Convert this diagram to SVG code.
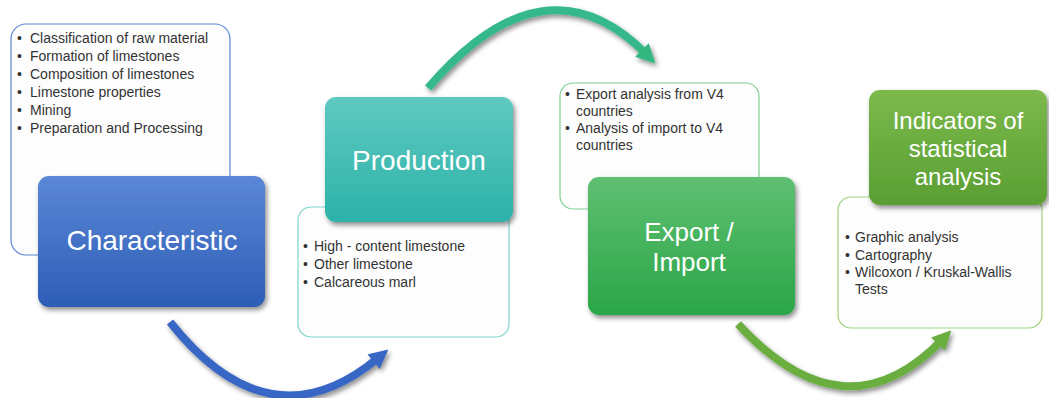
<svg xmlns="http://www.w3.org/2000/svg" width="1049" height="398" viewBox="0 0 1049 398">
<style>
.list{fill:#fdfdfd;stroke-width:1.2}
.li{font-family:"Liberation Sans","Open Sans",sans-serif;font-size:14px;fill:#333}
.head{font-family:"Liberation Sans","Open Sans",sans-serif;font-size:28px;fill:#ffffff;text-anchor:middle}
.h26{font-size:26px}
.h24{font-size:24px}
.arc{fill:none;stroke-width:8;stroke-linecap:butt}
</style>
<defs>
<filter id="sh" x="-10%" y="-10%" width="125%" height="130%">
<feDropShadow dx="2" dy="3" stdDeviation="2.5" flood-color="#000" flood-opacity="0.45"/>
</filter>
<linearGradient id="gBlue" x1="0" y1="0" x2="0" y2="1"><stop offset="0" stop-color="#5b87d6"/><stop offset="1" stop-color="#2d5db6"/></linearGradient>
<linearGradient id="gTeal" x1="0" y1="0" x2="0" y2="1"><stop offset="0" stop-color="#5ec9c1"/><stop offset="1" stop-color="#2db2a9"/></linearGradient>
<linearGradient id="gGreen" x1="0" y1="0" x2="0" y2="1"><stop offset="0" stop-color="#5fbf72"/><stop offset="1" stop-color="#2aa647"/></linearGradient>
<linearGradient id="gLime" x1="0" y1="0" x2="0" y2="1"><stop offset="0" stop-color="#7cb94c"/><stop offset="1" stop-color="#5a9f33"/></linearGradient>
<marker id="mBlue" viewBox="0 0 10 10" refX="3" refY="5" markerWidth="2.4" markerHeight="2.4" orient="auto"><path d="M0,0 L10,5 L0,10 z" fill="#3966c4"/></marker>
<marker id="mTeal" viewBox="0 0 10 10" refX="3" refY="5" markerWidth="2.4" markerHeight="2.4" orient="auto"><path d="M0,0 L10,5 L0,10 z" fill="#33b77f"/></marker>
<marker id="mLime" viewBox="0 0 10 10" refX="3" refY="5" markerWidth="2.4" markerHeight="2.4" orient="auto"><path d="M0,0 L10,5 L0,10 z" fill="#6aae41"/></marker>
</defs>
<rect width="1049" height="398" fill="#ffffff"/>

<g id="connectors">
<path class="arc" d="M170,322 Q270,448 378,358" stroke="#3966c4" marker-end="url(#mBlue)" filter="url(#sh)"/>
<path class="arc" d="M428,88 Q545,-48 646,54" stroke="#36b98a" marker-end="url(#mTeal)" filter="url(#sh)"/>
<path class="arc" d="M738,324 Q845,440 942,340" stroke="#6aae41" marker-end="url(#mLime)" filter="url(#sh)"/>
</g>

<g id="characteristic">
<rect class="list" x="11" y="24" width="219" height="231" rx="15" stroke="#5b86d2"/>
<g class="li">
<text x="17" y="43">•</text><text x="30" y="43">Classification of raw material</text>
<text x="17" y="61">•</text><text x="30" y="61">Formation of limestones</text>
<text x="17" y="79">•</text><text x="30" y="79">Composition of limestones</text>
<text x="17" y="97">•</text><text x="30" y="97">Limestone properties</text>
<text x="17" y="115">•</text><text x="30" y="115">Mining</text>
<text x="17" y="133">•</text><text x="30" y="133">Preparation and Processing</text>
</g>
<rect x="38" y="176" width="227" height="131" rx="11" fill="url(#gBlue)" filter="url(#sh)"/>
<text class="head" x="152" y="250">Characteristic</text>
</g>

<g id="production">
<rect class="list" x="298" y="207" width="211" height="130" rx="13" stroke="#7fd4cf"/>
<g class="li">
<text x="303" y="251">•</text><text x="314" y="251">High - content limestone</text>
<text x="303" y="269">•</text><text x="314" y="269">Other limestone</text>
<text x="303" y="287">•</text><text x="314" y="287">Calcareous marl</text>
</g>
<rect x="325" y="97" width="188" height="125" rx="11" fill="url(#gTeal)" filter="url(#sh)"/>
<text class="head" x="419" y="170">Production</text>
</g>

<g id="export-import">
<rect class="list" x="560" y="83" width="199" height="126" rx="13" stroke="#7fd093"/>
<g class="li">
<text x="565" y="99">•</text><text x="576" y="99">Export analysis from V4</text>
<text x="576" y="116">countries</text>
<text x="565" y="133">•</text><text x="576" y="133">Analysis of import to V4</text>
<text x="576" y="150">countries</text>
</g>
<rect x="588" y="177" width="207" height="138" rx="11" fill="url(#gGreen)" filter="url(#sh)"/>
<text class="head h26" x="689" y="241">Export /</text>
<text class="head h26" x="689" y="271">Import</text>
</g>

<g id="indicators">
<rect class="list" x="838" y="197" width="204" height="131" rx="13" stroke="#9fd27d"/>
<g class="li">
<text x="845" y="242">•</text><text x="855" y="242">Graphic analysis</text>
<text x="845" y="260">•</text><text x="855" y="260">Cartography</text>
<text x="845" y="277">•</text><text x="855" y="277">Wilcoxon / Kruskal-Wallis</text>
<text x="855" y="294">Tests</text>
</g>
<rect x="869" y="90" width="178" height="115" rx="11" fill="url(#gLime)" filter="url(#sh)"/>
<text class="head h24" x="958" y="129">Indicators of</text>
<text class="head h24" x="958" y="157">statistical</text>
<text class="head h24" x="958" y="185">analysis</text>
</g>
</svg>
